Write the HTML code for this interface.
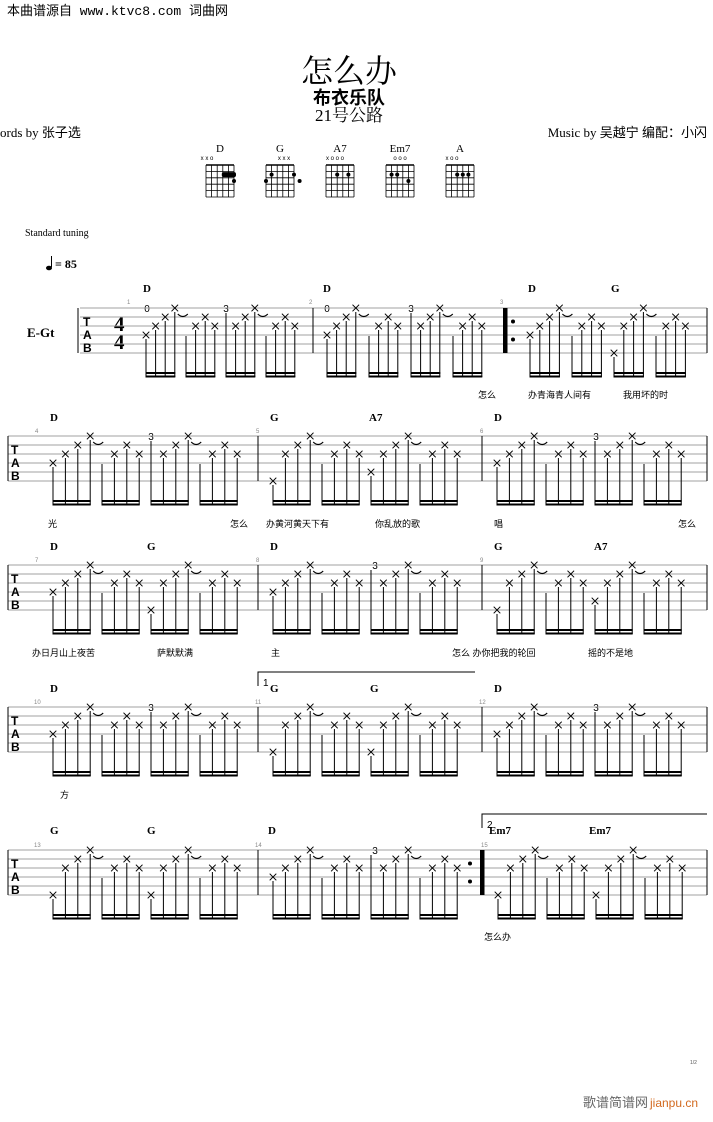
<!DOCTYPE html>
<html><head><meta charset="utf-8"><style>
html,body{margin:0;padding:0;background:#fff;}
body{width:713px;height:1122px;position:relative;overflow:hidden;}
svg{position:absolute;left:0;top:0;}
.c{font-family:"Liberation Serif",serif;font-weight:bold;font-size:11px;fill:#000;}
.l{font-family:"Liberation Sans","Noto Sans CJK SC",sans-serif;font-size:9px;fill:#000;}
.n{font-family:"Liberation Sans",sans-serif;font-size:6px;fill:#888;}
.f{font-family:"Liberation Sans",sans-serif;font-size:10px;fill:#000;}
.tab{font-family:"Liberation Sans",sans-serif;font-weight:bold;font-size:12px;fill:#000;}
</style></head><body>
<svg id="s" width="713" height="1122" xmlns="http://www.w3.org/2000/svg">
<text x="7" y="15" font-family="'Liberation Mono','Noto Sans CJK SC',monospace" font-size="13">本曲谱源自 www.ktvc8.com 词曲网</text>
<text x="349" y="82" text-anchor="middle" font-family="'Noto Serif CJK SC',serif" font-size="32">怎么办</text>
<text x="349" y="104" text-anchor="middle" font-family="'Noto Sans CJK SC',sans-serif" font-weight="bold" font-size="18">布衣乐队</text>
<text x="349" y="121" text-anchor="middle" font-family="'Liberation Serif','Noto Serif CJK SC',serif" font-size="17">21号公路</text>
<text x="0" y="137" font-family="'Liberation Serif','Noto Sans CJK SC',serif" font-size="13">ords by 张子选</text>
<text x="707" y="137" text-anchor="end" font-family="'Liberation Serif','Noto Sans CJK SC',serif" font-size="13">Music by 吴越宁 编配：小闪</text>
<g font-family="'Liberation Serif',serif" font-size="11" text-anchor="middle">
<text x="220" y="152">D</text><text x="280" y="152">G</text><text x="340" y="152">A7</text><text x="400" y="152">Em7</text><text x="460" y="152">A</text>
</g>
<g font-family="'Liberation Sans',sans-serif" font-size="6" text-anchor="middle">
<text x="207" y="160">x x o</text><text x="284" y="160">x x x</text><text x="335" y="160">x o  o  o</text><text x="400" y="160">o   o  o</text><text x="452" y="160">x o       o</text>
</g>
<text x="25" y="236" font-family="'Liberation Serif',serif" font-size="10">Standard tuning</text>
<ellipse cx="49" cy="268" rx="3" ry="2.3" fill="#000"/><line x1="51.5" y1="267" x2="51.5" y2="256" stroke="#000" stroke-width="1"/>
<text x="55" y="268" font-family="'Liberation Serif',serif" font-weight="bold" font-size="12">= 85</text>
<text x="27" y="337" font-family="'Liberation Serif',serif" font-weight="bold" font-size="13">E-Gt</text>
<g font-family="'Liberation Serif',serif" font-weight="bold" font-size="21"><text x="114" y="331">4</text><text x="114" y="349">4</text></g>

<!-- chords -->
<g class="c">
<text x="143" y="292">D</text><text x="323" y="292">D</text><text x="528" y="292">D</text><text x="611" y="292">G</text>
<text x="50" y="421">D</text><text x="270" y="421">G</text><text x="369" y="421">A7</text><text x="494" y="421">D</text>
<text x="50" y="550">D</text><text x="147" y="550">G</text><text x="270" y="550">D</text><text x="494" y="550">G</text><text x="594" y="550">A7</text>
<text x="50" y="692">D</text><text x="270" y="692">G</text><text x="370" y="692">G</text><text x="494" y="692">D</text>
<text x="50" y="834">G</text><text x="147" y="834">G</text><text x="268" y="834">D</text><text x="489" y="834">Em7</text><text x="589" y="834">Em7</text>
</g>
<!-- fret numbers -->
<g class="f" text-anchor="middle">
<text x="147" y="312">0</text><text x="226" y="312">3</text><text x="327" y="312">0</text><text x="411" y="312">3</text>
<text x="151" y="440">3</text><text x="596" y="440">3</text>
<text x="375" y="569">3</text>
<text x="151" y="711">3</text><text x="596" y="711">3</text>
<text x="375" y="854">3</text>
</g>
<!-- measure numbers -->
<g class="n">
<text x="127" y="304">1</text><text x="309" y="304">2</text><text x="500" y="304">3</text>
<text x="35" y="433">4</text><text x="256" y="433">5</text><text x="480" y="433">6</text>
<text x="35" y="562">7</text><text x="256" y="562">8</text><text x="480" y="562">9</text>
<text x="34" y="704">10</text><text x="255" y="704">11</text><text x="479" y="704">12</text>
<text x="34" y="847">13</text><text x="255" y="847">14</text><text x="481" y="847">15</text>
</g>
<!-- lyrics -->
<g class="l">
<text x="478" y="398">怎么</text><text x="528" y="398">办青海青人间有</text><text x="623" y="398">我用坏的时</text>
<text x="48" y="527">光</text><text x="230" y="527">怎么</text><text x="266" y="527">办黄河黄天下有</text><text x="375" y="527">你乱放的歌</text><text x="494" y="527">唱</text><text x="678" y="527">怎么</text>
<text x="32" y="656">办日月山上夜苦</text><text x="157" y="656">萨默默满</text><text x="271" y="656">主</text><text x="452" y="656">怎么 办你把我的轮回</text><text x="588" y="656">摇的不是地</text>
<text x="60" y="798">方</text>
<text x="484" y="940">怎么办</text>
</g>
<!-- volta -->
<polyline points="258,686 258,672 475,672" fill="none" stroke="#000" stroke-width="1"/>
<text x="263" y="686" font-family="'Liberation Sans',sans-serif" font-size="10">1</text>
<polyline points="482,828 482,814 707,814" fill="none" stroke="#000" stroke-width="1"/>
<text x="487" y="828" font-family="'Liberation Sans',sans-serif" font-size="10">2</text>
<text x="690" y="1064" font-family="'Liberation Sans',sans-serif" font-size="5" fill="#555">1/2</text>
<text x="583" y="1107" font-family="'Noto Sans CJK SC',sans-serif" font-size="13" fill="#666">歌谱简谱网</text>
<text x="650" y="1107" font-family="'Liberation Sans',sans-serif" font-size="12" fill="#d2691e">jianpu.cn</text>
<g id="g"></g>
</svg>
<script>
var NS="http://www.w3.org/2000/svg",G=document.getElementById('g');
function el(t,a){var e=document.createElementNS(NS,t);for(var k in a)e.setAttribute(k,a[k]);G.appendChild(e);return e;}
function line(x1,y1,x2,y2,c,w){el('line',{x1:x1,y1:y1,x2:x2,y2:y2,stroke:c||'#000','stroke-width':w||1});}
function X(x,y){var d=3.3;line(x-d,y-d,x+d,y+d,'#000',1);line(x-d,y+d,x+d,y-d,'#000',1);}
// chord diagrams
[[220,[[4,2,'bar'],[5,3]]],[280,[[1,2],[5,2],[0,3],[6,3]]],[340,[[2,2],[4,2]]],[400,[[1,2],[2,2],[4,3]]],[460,[[2,2],[3,2],[4,2]]]].forEach(function(c){
 var x0=c[0]-14,y0=165,w=28,h=32;
 for(var i=0;i<6;i++)line(x0+i*w/5,y0,x0+i*w/5,y0+h,'#000',0.8);
 for(var j=0;j<=5;j++)line(x0,y0+j*h/5,x0+w,y0+j*h/5,'#000',0.8);
 line(x0,y0,x0+w,y0,'#000',1.5);
 c[1].forEach(function(p){var s=p[0],f=p[1];var yy=y0+(f-0.5)*h/5;
  if(p[2]=='bar'){el('rect',{x:x0+3*w/5-1,y:yy-2.5,width:2*w/5+3,height:5,rx:2,fill:'#000'});}
  else el('circle',{cx:x0+s*w/5*(s>5?1:1),cy:yy,r:2,fill:'#000'});});
});
var D1=[[4,3,2,1],[0,3,2,3],['n',3,2,1],[0,3,2,3]];
var Dh=[[4,3,2,1],[0,3,2,3]],Gh=[[6,3,2,1],[0,3,2,3]],Ah=[[5,3,2,1],[0,3,2,3]],Dh2=[['n',3,2,1],[0,3,2,3]];
var rows=[
 {y:308,x0:80,bars:[78,313,707],thick:503,dots:513,m:[[146,40,9.6,D1],[327,42,9.6,D1],[530,42,9.8,Dh.concat(Gh)]]},
 {y:436,x0:8,bars:[8,258,482,707],m:[[53,49,12.4,D1],[273,49,12.4,Gh.concat(Ah)],[497,49,12.4,D1]]},
 {y:565,x0:8,bars:[8,258,482,707],m:[[53,49,12.4,Dh.concat(Gh)],[273,49,12.4,D1],[497,49,12.4,Gh.concat(Ah)]]},
 {y:707,x0:8,bars:[8,258,482,707],m:[[53,49,12.4,D1],[273,49,12.4,Gh.concat(Gh)],[497,49,12.4,D1]]},
 {y:850,x0:8,bars:[8,258,707],thick:480,dots:470,m:[[53,49,12.4,Gh.concat(Gh)],[273,49,12.4,D1],[498,49,12.4,Gh.concat(Gh)]]}
];
rows.forEach(function(r){
 var y0=r.y;
 for(var i=0;i<6;i++)line(r.x0,y0+9*i,707,y0+9*i,'#a0a0a0',1);
 r.bars.forEach(function(b){line(b,y0,b,y0+45,'#000',1);});
 if(r.thick){el('rect',{x:r.thick,y:y0,width:4.5,height:45,fill:'#000'});
  el('circle',{cx:r.dots,cy:y0+13.5,r:2,fill:'#000'});el('circle',{cx:r.dots,cy:y0+31.5,r:2,fill:'#000'});}
 // TAB clef
 var tx=r.x0==80?83:11;
 el('text',{x:tx,y:y0+18,'class':'tab'}).textContent='T';
 el('text',{x:tx,y:y0+31,'class':'tab'}).textContent='A';
 el('text',{x:tx,y:y0+44,'class':'tab'}).textContent='B';
 r.m.forEach(function(m){
  var st=m[0],gs=m[1],ns=m[2],gr=m[3],by=y0+64;
  gr.forEach(function(g,gi){
   var gx=st+gi*gs;
   g.forEach(function(s,k){
    var x=gx+k*ns,top;
    if(s==='n')top=y0+5;else if(s===0)top=y0+28;else{X(x,y0+9*(s-1));top=y0+9*(s-1)+4;}
    line(x,top,x,by+5,'#000',1);
    if(k==3&&s===1&&gi%2==0)el('path',{d:'M'+(x+3)+' '+(y0+6)+' q5 5 10 0',fill:'none',stroke:'#000','stroke-width':1.2});
   });
   el('rect',{x:gx-0.5,y:by,width:3*ns+1,height:2,fill:'#000'});
   el('rect',{x:gx-0.5,y:by+3.5,width:3*ns+1,height:2,fill:'#000'});
  });
 });
});
// first system bracket
line(78,308,78,353,'#000',1);
</script>
</body></html>
